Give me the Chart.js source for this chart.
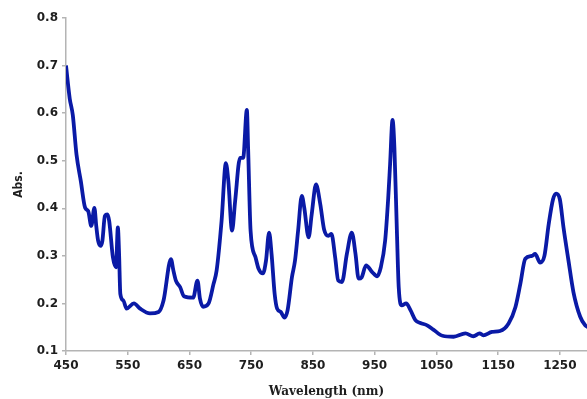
<!DOCTYPE html>
<html>
<head>
<meta charset="utf-8">
<script src="https://cdn.jsdelivr.net/npm/chart.js@4/dist/chart.umd.min.js"></script>
<style>
  html, body { margin: 0; padding: 0; background: #fff; }
  #wrap { width: 587px; height: 399px; }
</style>
</head>
<body>
<div id="wrap"><canvas id="absChart" width="587" height="399"></canvas></div>
<script>
// Comprimentos de onda (nm)
const wavelengths = [
    450, 456, 461, 467, 474, 481, 486, 491, 496, 499,
    502, 506, 509, 513, 517, 520, 526, 531, 534, 536,
    538, 543, 548, 560, 570, 586, 600, 608, 620, 624,
    628, 635, 641, 656, 663, 667, 672, 681, 689, 694,
    702, 709, 713, 719, 724, 732, 737, 743, 745, 749,
    757, 762, 769, 774, 779, 783, 788, 792, 798, 804,
    809, 816, 821, 826, 832, 836, 843, 848, 855, 862,
    868, 875, 880, 886, 891, 897, 905, 913, 919, 924,
    929, 936, 946, 954, 960, 967, 972, 975, 979, 982,
    986, 989, 994, 1001, 1008, 1016, 1024, 1035, 1045, 1060,
    1078, 1097, 1110, 1120, 1126, 1140, 1153, 1167, 1178, 1186,
    1194, 1205, 1210, 1218, 1225, 1232, 1239, 1244, 1250, 1256,
    1264, 1272, 1283, 1291, 1296
];

// Absorbância correspondente
const absorbance = [
    0.700, 0.631, 0.596, 0.513, 0.457, 0.401, 0.394, 0.363, 0.401, 0.363,
    0.332, 0.321, 0.332, 0.384, 0.387, 0.373, 0.297, 0.276, 0.360, 0.304,
    0.220, 0.206, 0.189, 0.200, 0.189, 0.179, 0.182, 0.206, 0.293, 0.269,
    0.248, 0.234, 0.215, 0.212, 0.248, 0.210, 0.193, 0.200, 0.241, 0.269,
    0.373, 0.495, 0.457, 0.353, 0.415, 0.506, 0.506, 0.607, 0.527, 0.353,
    0.297, 0.273, 0.263, 0.290, 0.349, 0.304, 0.220, 0.189, 0.182, 0.170,
    0.186, 0.255, 0.290, 0.353, 0.426, 0.401, 0.339, 0.387, 0.450, 0.408,
    0.356, 0.342, 0.346, 0.297, 0.248, 0.245, 0.304, 0.349, 0.304, 0.252,
    0.255, 0.280, 0.266, 0.257, 0.276, 0.332, 0.422, 0.492, 0.586, 0.527,
    0.353, 0.234, 0.196, 0.200, 0.186, 0.165, 0.159, 0.154, 0.145, 0.132,
    0.130, 0.137, 0.131, 0.137, 0.133, 0.140, 0.142, 0.158, 0.192, 0.241,
    0.294, 0.300, 0.304, 0.286, 0.300, 0.367, 0.419, 0.431, 0.419, 0.359,
    0.290, 0.224, 0.172, 0.154, 0.150
];

// Marcas dos eixos
const xTicks = [450, 550, 650, 750, 850, 950, 1050, 1150, 1250];
const yTicks = [0.1, 0.2, 0.3, 0.4, 0.5, 0.6, 0.7, 0.8];

document.addEventListener('DOMContentLoaded', function() {
    const axisColor = '#b4b4b4';
    const tickFont = { family: 'DejaVu Sans', size: 12, weight: 'bold' };

    const points = wavelengths.map((w, i) => ({ x: w, y: absorbance[i] }));

    new Chart(document.getElementById('absChart'), {
        type: 'line',
        data: {
            datasets: [{
                label: 'Abs.',
                data: points,
                borderColor: '#0a1aa6',
                borderWidth: 3.8,
                pointRadius: 0,
                fill: false,
                cubicInterpolationMode: 'monotone'
            }]
        },
        options: {
            responsive: false,
            animation: false,
            layout: { padding: { top: 18, right: 0, left: 0, bottom: 0 } },
            plugins: {
                legend: { display: false },
                tooltip: { enabled: false }
            },
            scales: {
                x: {
                    type: 'linear',
                    min: 450,
                    max: 1294,
                    afterBuildTicks: (scale) => { scale.ticks = xTicks.map(v => ({ value: v })); },
                    afterFit: (scale) => { scale.height = 48; },
                    grid: { drawOnChartArea: false, drawTicks: true, tickLength: 4, color: axisColor, lineWidth: 1.5 },
                    border: { color: axisColor, width: 1.5 },
                    ticks: {
                        color: '#1e1e1e',
                        font: tickFont,
                        padding: 4,
                        maxRotation: 0,
                        callback: (v) => String(v)
                    },
                    title: {
                        display: true,
                        text: 'Wavelength (nm)',
                        color: '#1e1e1e',
                        font: { family: 'DejaVu Serif', size: 12, weight: 'bold' },
                        padding: { top: 0, bottom: 0 }
                    }
                },
                y: {
                    min: 0.1,
                    max: 0.8,
                    afterBuildTicks: (scale) => { scale.ticks = yTicks.map(v => ({ value: v })); },
                    afterFit: (scale) => { scale.width = 66; },
                    grid: { drawOnChartArea: false, drawTicks: true, tickLength: 4, color: axisColor, lineWidth: 1.5 },
                    border: { color: axisColor, width: 1.5 },
                    ticks: {
                        color: '#1e1e1e',
                        font: tickFont,
                        padding: 4,
                        callback: (v) => Number(v).toFixed(1)
                    },
                    title: {
                        display: true,
                        text: 'Abs.',
                        color: '#1e1e1e',
                        font: { family: 'DejaVu Sans Condensed', size: 12, weight: 'bold' },
                        padding: { top: 12, bottom: 0 }
                    }
                }
            }
        }
    });
});
</script>
</body>
</html>
